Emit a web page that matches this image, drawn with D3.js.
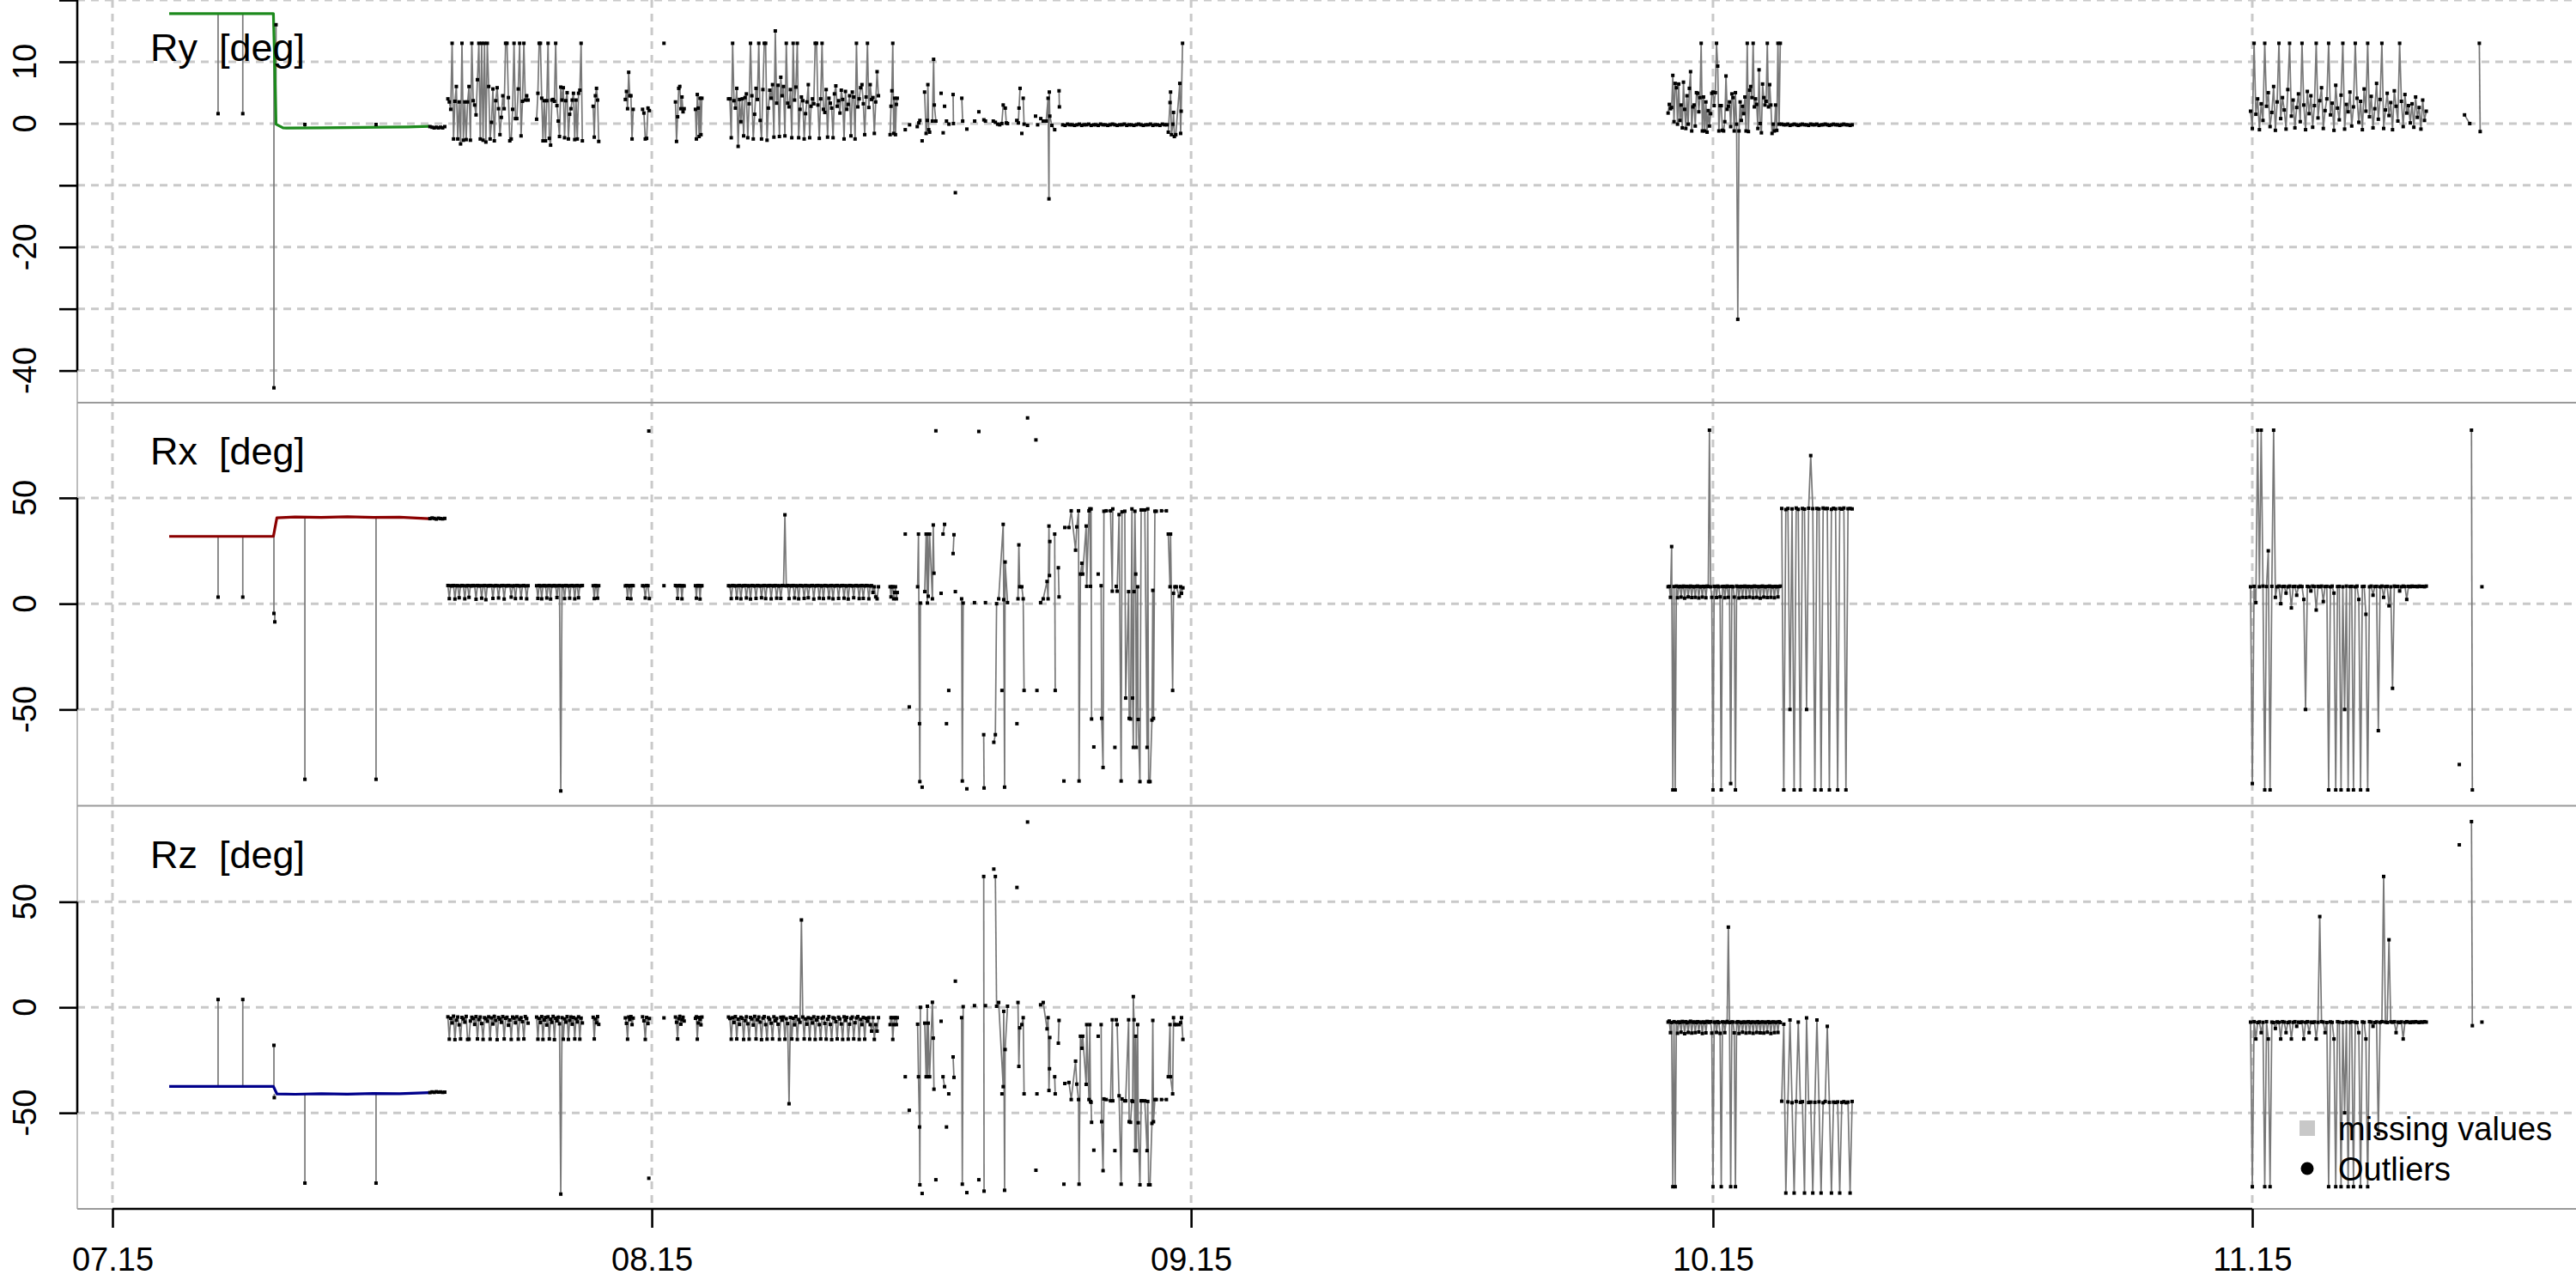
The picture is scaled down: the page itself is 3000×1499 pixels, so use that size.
<!DOCTYPE html>
<html><head><meta charset="utf-8">
<script src="https://cdn.jsdelivr.net/npm/d3@7"></script>
<style>
body{margin:0;background:#fff}
text{font-family:"Liberation Sans",Arial,Helvetica,sans-serif;fill:#000}
</style>
</head><body>
<svg id="c" width="3000" height="1499" xmlns="http://www.w3.org/2000/svg"></svg>
<script>
// ================= DATA =================
// time is given in days after the start date
const startDate = "2015-07-15";
const xTickDates = ["2015-07-15","2015-08-15","2015-09-15","2015-10-15","2015-11-15"];
const xTickLabels = ["07.15","08.15","09.15","10.15","11.15"];
const panelNames = ["Ry  [deg]","Rx  [deg]","Rz  [deg]"];
const lineColors = ["#1c8a1c","#8b0000","#00008b"];
const legendLabels = ["missing values","Outliers"];

const ryDomain = [-45.2, 20.2];
const rxDomain = [-95.5, 95.0];
const rzDomain = [-95.5, 95.5];
const ryTicks = [20,10,0,-10,-20,-30,-40];
const ryTickLabels = [10,0,-20,-40];
const rxTicks = [50,0,-50];
const rxTickLabels = [50,0,-50];
const rzTicks = [50,0,-50];
const rzTickLabels = [50,0,-50];

// ---- Ry ----
const ryLine = [[3.26,17.8],[9.25,17.8],[9.32,10],[9.4,-0.1],[9.8,-0.7],[10,-0.73],[12,-0.7],[13.3,-0.65],[15.5,-0.6],[17,-0.55],[18.2,-0.46]];
const rySpikes = [[6.07,17.8,1.6],[7.49,17.8,1.6],[9.28,17.8,-42.8],[9.4,-0.1,16.0],[11.06,-0.7,-0.15],[15.15,-0.6,-0.15]];
const ryRuns = [
 {t0:18.25,t1:19.1,v:[-0.5,-0.6,-0.7,-0.6,-0.7,-0.6,-0.7,-0.5]},
 {t0:19.28,t1:23.89,v:[4,3.5,2.3,13,-2.5,3.6,6,-2.5,3.5,-3.3,13,-2.7,3.5,-2.6,3.5,6,-2.7,13,3.7,3,1.4,7.1,13,-2.5,13,-2.7,13,-3,13,6,-2.5,0.2,5.6,-2.8,3.7,5.8,2.4,-1.8,1,4.5,2.4,13,13,4.2,-2.8,-2.5,2.3,13,0.8,0.8,5.6,13,-2,3.6,13,3.8,4.5,3.8]},
 {t0:24.38,t1:27.01,v:[0.7,4.9,13,13,4.1,-2.8,3.7,-2.8,3.7,13,-2.4,-3.5,3.8,3.9,3.6,13,2.9,0.4,-2.1,5.9,3.8,5.8,-2.3,3.7,5,-2.5,1.5,2.4,3.8,4.9,-2.6,3.8,-2.5,4.9,5.4,13,-2.8]},
 {t0:27.63,t1:27.95,v:[2.8,-2.2,4.5,5.7,3.8,-2.9]},
 {t0:29.48,t1:29.93,v:[3.9,5.2,2.4,8.3,4.5,4.5,-2.5,2.3]},
 {t0:30.47,t1:30.86,v:[2.3,1.7,-2.5,-2.4,2.5,2.1]},
 [[31.70,13]],
 {t0:32.36,t1:32.86,v:[3.5,-2.9,1.1,5.7,6.0,2.4,4.3,1.9,2.4]},
 {t0:33.51,t1:33.88,v:[2.3,-2.5,4.7,2.5,-2.1,4.1,-1.8,4.1]},
 {t0:35.41,t1:44.03,v:[4.0,4.0,-2.3,13,3.7,2.5,5.7,-3.7,3.9,0.3, 4.0,-2.0,4.2,4.8,-2.3,3.2,13,4.5,-2.5,1.5, 5.7,3.9,13,0.5,-2.5,5.5,13,13,-2.7,2.5, 5.4,4.1,6.3,-2.2,15,3.3,6.2,-2.1,7.5,4.5, 6.0,-2.0,13,3.3,2.7,5.5,-2.3,13,3.8,5.9, 13,-2.3,2.3,4.3,3.7,-2.5,1.6,3.5,6.3,-2.3, 2.8,4.0,3.2,13,13,3.0,-2.4,4.0,13,2.3, 1.8,5.5,-2.2,4.1,3.3,2.5,-2.3,4.8,6.1,2.8, 3.7,1.7,5.4,3.9,-2.5,5.2,2.3,3.1,4.5,-2.0, 5.1,4.3,-2.5,13,2.7,4.0,5.8,6.3,3.2,-1.8, 4.3,13,2.6,6.3,3.9,4.2,-1.6,3.5,8.4,4.5]},
 {t0:44.70,t1:45.11,v:[-1.8,2.8,5.3,13,-1.6,4.1,-1.8,3.1,4.1]},
 [[45.57,-1.0]],[[45.82,-0.2]],
 [[46.26,-0.5],[46.35,0.1],[46.41,0.5]],
 [[46.54,-2.8]],
 [[46.68,5.1],[46.77,-1.6],[46.84,0.5],[46.87,6.3],[46.92,-1.0],[46.97,-1.4]],
 [[47.13,0.4],[47.20,10.4],[47.24,3.0],[47.33,0.4]],
 [[47.63,4.9]],[[47.75,-1.5]],[[47.83,2.8]],
 [[47.94,0.4],[48.08,-0.1]],
 [[48.32,4.7],[48.34,0.0]],
 [[48.45,-11.2]],
 [[48.82,4.1],[48.87,0.4]],
 [[49.11,-0.9]],[[49.56,0.4]],[[49.80,1.9]],
 [[50.09,0.6],[50.18,0.4]],
 [[50.63,0.4],[50.75,0.2],[50.88,-0.1],[51.00,-0.2],[51.12,0.0],[51.20,3.0],[51.32,2.5],[51.38,0.1],[51.45,0.0]],
 [[51.98,0.5],[52.07,0.1],[52.11,2.5],[52.17,5.7]],
 [[52.27,-1.6]],
 [[52.35,4.1],[52.40,-0.1],[52.60,-0.3]],
 [[53.06,1.2]],[[53.18,-0.2]],
 [[53.36,0.8],[53.50,0.4],[53.67,0.4],[53.78,4.1],[53.83,-12.2],[53.85,5.1],[53.88,1.2],[54.00,-0.3],[54.16,-1.0]],
 [[54.41,5.3],[54.43,2.7]],
 {t0:54.62,t1:60.62,v:[-0.2,-0.3,-0.1,-0.2,-0.2,-0.3,-0.2,-0.1,-0.3,-0.2,-0.2,-0.1,-0.3,-0.2,-0.2,-0.3,-0.1,-0.2,-0.2,-0.3,-0.2,-0.1,-0.2,-0.3,-0.2,-0.2,-0.1,-0.3,-0.2,-0.2,-0.3,-0.2,-0.1,-0.2,-0.3,-0.2,-0.2,-0.1,-0.3,-0.2,-0.2,-0.3,-0.1,-0.2,-0.2]},
 [[60.69,-1.4],[60.79,3.4],[60.82,5.1],[60.87,-1.8],[60.96,-0.1],[60.99,1.8],[61.04,-2.1],[61.12,-1.8],[61.35,6.5],[61.40,-1.6],[61.43,2.0],[61.51,13.0]],
 {t0:89.42,t1:95.87,v:[1.7,3.1,2.4,2.6,7.8,0.3,6.5,5.8,-0.1,6.4, 0.5,3.0,-0.7,6.7,2.3,-0.8,4.5,-0.1,5.7,8.4, -1.2,2.7,3.0,-0.4,5.0,4.9,1.9,4.2,13,-1.2, 4.3,-1.2,3.5,-1.4,2.1,-0.4,1.6,4.9,5.1,2.9, 5.0,13,9.3,-1.2,2.9,2.9,-1.1,-1.2,0.3,7.7, 2.3,2.8,3.5,-0.5,4.8,4.2,-1.2,5.0,-0.1,-31.7, -1.2,3.5,0.5,2.8,1.6,4.3,-1.2,13,-1.3,5.4, 6.0,4.2,13,2.7,4.0,3.1,-0.8,8.7,0,-1.5, 6.4,4.2,3.0,3.6,13,2.7,6.3,3.0,-1.6,-0.1, -1.2,3.0,-1.1,13,-0.1,13]},
 {t0:95.95,t1:100.0,v:[-0.1,-0.2,-0.2,-0.1,-0.3,-0.2,-0.1,-0.2,-0.3,-0.2,-0.1,-0.2,-0.2,-0.3,-0.1,-0.2,-0.2,-0.1,-0.3,-0.2,-0.2,-0.1,-0.2,-0.3,-0.2,-0.1,-0.2,-0.2,-0.3,-0.2,-0.1,-0.2,-0.2,-0.3,-0.2]},
 {t0:122.9,t1:133.0,v:[2.0,-0.8,13,1.5,4.0,-1.0,3.2,0.5,13,2.8, 5.0,-0.5,1.8,6.0,-1.1,3.5,13,0.8,4.2,2.2, -0.9,5.5,13,1.2,3.8,-0.7,2.6,4.8,0.3,13, 3.0,-1.0,5.2,1.6,4.5,-0.6,2.9,13,0.9,3.7, 5.8,-0.8,2.1,4.0,13,1.4,3.3,-1.1,6.2,2.5, 0.6,4.6,13,-0.9,3.1,1.9,5.1,-0.4,2.7,13, 4.1,0.2,3.6,-1.0,5.6,2.0,13,1.1,4.4,-0.7, 2.4,6.5,0.7,3.9,13,-0.8,2.2,4.9,1.3,3.4, -1.0,5.3,2.8,0.4,13,3.6,-0.5,4.7,1.7,2.9, 0.1,3.2,-0.6,4.3,1.0,2.6,-0.9,3.8,0.5,2.0]},
 [[135.2,1.4],[135.5,0.0]],
 [[136.05,13.0],[136.1,-1.3]]
];

// ---- Rx ----
const rxLine = [[3.26,31.8],[9.25,31.8],[9.45,40.6],[10.5,41.0],[12,40.8],[13.5,41.1],[15,40.8],[16.5,40.9],[18.2,40.2]];
const rxSpikes = [[6.07,31.8,3.1],[7.49,31.8,3.1],[9.28,31.8,-4.6],[9.33,-4.6,-8.6],[11.06,41.0,-83.0],[15.15,40.8,-83.0]];
const rxRuns = [
 {t0:18.25,t1:19.1,v:[40.2,40.5,40.3,40.0,40.4,40.2,40.1,40.3]},
 {t0:19.28,t1:23.89,v:[8.6,2.4,8.5,8.4,8.6,2.2,8.5,8.5,2.8,8.4,8.6,8.5,2.3,8.4,8.6,3.0,8.5,8.4,8.6,8.5,2.1,8.6,8.4,8.5,2.6,8.5,8.6,1.9,8.5,8.4,8.6,8.5,2.5,8.4,8.6,8.5,2.7,8.4,8.5,8.6,2.2,8.5,8.4,8.6,8.5,3.1,8.4,8.5,2.4,8.6,8.5,8.4,2.6,8.5,8.6,8.4,2.3,8.5]},
 {t0:24.38,t1:27.01,v:[8.5,2.5,8.6,8.4,2.3,8.5,8.6,8.4,2.7,8.5,8.6,2.2,8.4,8.5,8.6,8.4,2.9,8.5,8.6,-88.5,8.4,8.5,2.4,8.6,8.5,8.4,2.6,8.5,8.6,8.4,2.3,8.5,8.6,2.8,8.4,8.5,8.6]},
 {t0:27.63,t1:27.95,v:[8.5,2.4,8.6,8.4,2.6,8.5]},
 {t0:29.48,t1:29.93,v:[8.4,8.6,2.5,8.5,8.4,2.3,8.6,8.5]},
 {t0:30.47,t1:30.86,v:[8.5,8.4,2.7,8.6,8.5,2.4]},
 [[30.83,81.6]],
 [[31.70,8.5]],
 {t0:32.36,t1:32.86,v:[8.6,8.4,2.5,8.5,8.6,8.4,2.3,8.5,8.4]},
 {t0:33.51,t1:33.88,v:[8.5,2.6,8.4,8.6,8.5,2.2,8.4,8.5]},
 {t0:35.41,t1:44.03,v:[8.5,8.4,2.4,8.6,8.5,8.4,2.6,8.5,8.6,2.3, 8.4,8.5,8.6,2.7,8.5,8.4,2.2,8.6,8.5,8.4, 2.5,8.6,8.5,8.4,2.8,8.5,8.6,2.4,8.5,8.4, 8.6,2.3,8.5,8.4,8.6,2.6,8.5,8.4,2.5,8.6, 8.5,42.0,8.4,8.6,2.4,8.5,8.4,8.6,2.7,8.5, 8.4,2.3,8.6,8.5,8.4,2.5,8.6,8.5,2.8,8.4, 8.5,8.6,2.2,8.4,8.5,8.6,2.6,8.5,8.4,2.4, 8.6,8.5,8.4,2.7,8.5,8.6,2.3,8.4,8.5,8.6, 2.5,8.4,8.5,8.6,2.6,8.5,8.4,2.2,8.6,8.5, 8.4,2.8,8.5,8.6,8.4,2.4,8.5,8.6,2.5,8.4, 8.6,8.5,2.3,8.4,8.5,5.3,8.0,3.2,2.3,8.0]},
 {t0:44.70,t1:45.11,v:[8.0,3.2,8.0,8.0,2.3,5.3,8.0,2.3,5.3]},
 [[45.57,32.9]],[[45.80,-48.8]],
 [[46.28,8.0],[46.33,32.9],[46.39,-56.7],[46.41,-84.1],[46.44,0.3]],
 [[46.54,-86.7]],
 [[46.69,5.7],[46.77,32.9],[46.84,0.3],[46.86,32.9],[46.89,3.5],[46.97,32.9],[47.13,2.3],[47.18,37.2],[47.22,14.4]],
 [[47.33,81.7]],[[47.63,4.9]],
 [[47.74,32.9],[47.83,37.5]],
 [[47.94,-56.7]],[[48.07,-41]],
 [[48.32,23.7],[48.37,32.6]],
 [[48.45,5.7]],
 [[48.81,2.3],[48.85,-83.8],[48.90,0.3]],
 [[49.11,-87.5]],[[49.55,0.5]],[[49.80,81.4]],
 [[50.08,-61.9],[50.10,-87.1]],
 [[50.18,0.5]],
 [[50.66,-65.5],[50.75,-61.9],[50.82,0.0]],
 [[50.94,2.3],[51.20,37.5],[51.23,1.9],[51.28,-86.7],[51.31,19.7],[51.45,0.5]],
 [[51.13,-41]],[[51.99,-56.7]],
 [[52.05,2.3],[52.10,27.8],[52.15,8.0],[52.27,8.0],[52.35,2.3],[52.40,-41]],
 [[52.60,87.8]],[[53.08,77.4]],[[53.14,-41]],
 [[53.35,0.5],[53.50,2.3],[53.72,10.5],[53.78,2.3],[53.83,36.7],[53.86,13.3],[53.88,29.4]],
 [[54.16,32.9],[54.19,-41]],
 [[54.37,17],[54.41,3.2]],
 [[54.69,-83.8]],
 [[54.74,36],[54.98,36],[55.11,43.9],[55.36,25.3],[55.43,36.3],[55.53,43.9],[55.56,-83.8],[55.64,14],[55.72,19.1],[55.77,14],[55.97,36.7],[56.00,8.2],[56.13,43.9],[56.18,44.8],[56.22,8.2],[56.25,44.8],[56.28,-54.5]],
 [[56.41,-67.7]],[[56.66,14]],
 [[56.83,8.5],[56.86,-54.2],[56.94,-77.4],[56.99,43.7],[57.12,43.9],[57.37,43.9],[57.47,5.9],[57.50,44.8]],
 [[57.62,-67.9]],
 [[57.70,8.2],[57.75,5.9],[57.86,42.1],[57.98,-83.8],[58.03,43.4],[58.19,43.7],[58.24,-44.6],[58.41,5.7],[58.44,-54.2],[58.52,-54.5],[58.60,44.8],[58.64,-44.6],[58.68,-67.9],[58.72,5.7],[58.77,43.7],[58.82,14],[58.85,-67.9],[58.93,8],[58.96,-54.7],[59.06,-84.1],[59.13,44.3],[59.18,44.3],[59.34,44.3],[59.47,-67.9],[59.51,44.8],[59.56,-84.1],[59.64,-84.1],[59.75,-55],[59.80,6.3],[59.84,-54.2],[59.92,43.7],[60.00,43.7]],
 [[60.30,43.9],[60.58,43.9]],
 [[60.69,32.9],[60.79,8],[60.82,32.9],[60.94,-41],[60.99,4.9],[61.07,8],[61.15,8],[61.32,3.5],[61.40,8],[61.45,4.9],[61.53,7.5]],
 {t0:89.42,t1:95.87,v:[8.0,8.2,3.0,27.0,-88.0,8.1,-88.0,8.3,2.8,8.0, 8.2,3.1,8.0,8.3,2.6,8.1,8.2,3.2,8.0,8.3, 2.9,8.1,8.0,3.0,8.2,8.3,2.7,8.0,8.1,3.1, 8.2,8.0,2.8,8.3,8.1,82.0,8.0,3.0,-88.0,8.2, 8.1,2.9,8.3,8.0,3.2,-88.0,8.1,8.2,2.8,8.0, 8.3,3.0,8.1,-85.0,8.2,8.0,3.1,-88.0,8.3,8.1, 2.7,8.0,8.2,3.0,8.1,8.3,2.9,8.0,8.2,3.1, 8.1,8.0,2.8,8.3,8.2,3.0,8.1,8.0,2.6,8.2, 8.3,3.1,8.0,8.1,2.9,8.2,8.3,3.0,8.0,8.1, 2.8,8.2,8.0,3.2,8.1,8.3]},
 {t0:95.95,t1:100.0,v:[45,-88,44.5,45,-50,44.8,-88,45.2,44.6,-88,45,44.7,-50,45.1,70,44.9,-88,45,44.8,-88,45.2,44.9,45,-88,44.6,45.1,44.8,-88,45,44.7,45.2,-88,44.9,45,44.8]},
 {t0:122.9,t1:133.0,v:[8.0,-85.0,8.2,0.5,82.0,8.0,82.0,8.3,-88.0,8.1, 25.0,-88.0,8.2,82.0,3.0,8.0,8.3,0.0,8.1,8.2, 5.0,8.0,8.3,-2.0,8.1,8.2,4.0,8.0,8.3,8.1, 2.0,-50.0,8.2,8.0,6.0,8.3,8.1,-3.0,8.2,8.0, 8.3,1.0,8.1,8.2,-88.0,8.0,8.3,5.0,-88.0,8.1, 8.2,-88.0,8.0,-50.0,8.3,-88.0,8.1,8.2,-88.0,8.0, 8.3,2.0,-88.0,8.1,8.2,-5.0,-88.0,8.0,8.3,4.0, 8.1,8.2,-60.0,8.0,8.3,3.0,8.1,8.2,-1.0,8.0, -40.0,8.3,8.1,8.2,6.0,8.0,8.3,8.1,2.0,8.2, 8.0,8.3,8.1,8.2,8.0,8.3,8.1,8.2,8.0,8.3]},
 [[134.9,-76]],
 [[135.6,82],[135.65,-88]],
 [[136.2,8.0]]
];

// ---- Rz ----
const rzLine = [[3.26,-37.5],[9.25,-37.5],[9.45,-41.0],[10.5,-41.2],[12,-40.9],[13.5,-41.1],[15,-40.8],[16.5,-40.9],[18.2,-40.4]];
const rzSpikes = [[6.07,-37.5,3.7],[7.49,-37.5,3.7],[9.28,-37.5,-18.0],[9.3,-41.0,-42.8],[11.06,-41.1,-83.3],[15.15,-40.8,-83.3]];
const rzRuns = [
 {t0:18.25,t1:19.1,v:[-40.4,-40.1,-40.3,-40.0,-40.2,-40.1,-40.3,-40.2]},
 {t0:19.28,t1:23.89,v:[-4.5,-15.1,-5.2,-7.4,-4.2,-15.3,-6.1,-4.6,-8.3,-15.0,-4.8,-5.5,-7.0,-4.3,-15.2,-15.1,-6.5,-4.7,-5.3,-8.1,-4.4,-15.0,-5.8,-4.6,-7.7,-15.2,-4.9,-5.4,-6.6,-4.5,-15.1,-5.0,-7.9,-4.3,-6.2,-15.3,-4.8,-5.6,-7.1,-4.4,-15.0,-5.2,-4.7,-8.5,-6.0,-15.2,-4.6,-5.1,-7.3,-4.5,-15.1,-5.7,-4.9,-6.8,-15.0,-4.4,-5.3,-7.5]},
 {t0:24.38,t1:27.01,v:[-4.6,-15.1,-5.3,-7.2,-4.4,-15.2,-6.0,-4.8,-8.4,-4.5,-15.0,-5.6,-7.1,-4.3,-15.3,-5.2,-6.4,-4.7,-7.8,-88.5,-4.9,-15.1,-5.5,-7.0,-4.4,-15.2,-6.2,-4.6,-8.0,-4.8,-15.0,-5.4,-6.9,-4.5,-15.1,-5.1,-7.4]},
 {t0:27.63,t1:27.95,v:[-4.7,-15.0,-5.5,-7.3,-4.4,-8.1]},
 {t0:29.48,t1:29.93,v:[-5.0,-7.6,-15.1,-4.6,-5.8,-4.4,-8.2,-5.1]},
 {t0:30.47,t1:30.86,v:[-4.5,-6.4,-15.2,-4.8,-7.7,-5.3]},
 [[30.83,-81.0]],
 [[31.70,-5.0]],
 {t0:32.36,t1:32.86,v:[-4.6,-7.1,-15.0,-5.4,-4.3,-8.0,-5.9,-4.7,-6.5]},
 {t0:33.51,t1:33.88,v:[-5.2,-4.5,-15.1,-7.4,-4.8,-5.6,-8.3,-4.6]},
 {t0:35.41,t1:44.03,v:[-4.6,-5.3,-15.1,-4.9,-7.2,-4.4,-15.0,-5.6,-8.1,-4.7, -5.2,-15.2,-6.3,-4.5,-7.8,-15.1,-4.8,-5.5,-8.4,-4.3, -15.0,-5.9,-4.6,-7.0,-15.3,-5.1,-4.4,-8.2,-15.1,-4.9, -5.7,-7.5,-15.0,-4.5,-6.4,-5.3,-8.0,-15.2,-4.7,-6.1, -4.6,-15.1,-5.4,-7.7,-45.7,-4.8,-15.0,-5.2,-8.3,-4.4, -15.2,-5.8,-7.1,41.4,-4.6,-15.0,-5.5,-8.0,-4.9,-15.1, -5.3,-7.4,-4.5,-15.2,-6.0,-4.8,-8.2,-15.0,-5.1,-4.6, -7.6,-15.1,-5.6,-4.4,-8.1,-15.3,-4.9,-5.2,-6.8,-15.0, -4.7,-5.5,-7.9,-15.2,-4.5,-6.2,-4.8,-15.1,-8.0,-5.3, -4.6,-15.0,-7.3,-5.0,-4.4,-15.2,-5.7,-8.2,-4.8,-15.1, -5.2,-6.6,-4.9,-8.2,-11.3,-4.9,-15.2,-8.2,-11.3,-4.9]},
 {t0:44.70,t1:45.11,v:[-8.2,-4.9,-4.9,-15.2,-8.2,-4.9,-4.9,-8.2,-4.9]},
 [[45.57,-32.9]],[[45.80,-48.8]],
 [[46.28,-8],[46.33,-32.9],[46.39,-56.7],[46.41,-84.1],[46.44,0]],
 [[46.54,-88.2]],
 [[46.69,-7.5],[46.77,-32.9],[46.84,0.5],[46.86,-32.9],[46.89,-7.5],[46.97,-32.9],[47.13,2.4],[47.18,-14.6],[47.22,-38.8]],
 [[47.33,-81.7]],[[47.63,-6.6]],
 [[47.74,-32.9],[47.83,-37.6]],
 [[47.94,-56.7]],[[48.07,-41]],
 [[48.32,-23.5],[48.37,-33.2]],
 [[48.45,12.4]],
 [[48.81,-4.9],[48.85,-83.8],[48.90,0.3]],
 [[49.11,-87.8]],[[49.55,0.8]],[[49.80,-81.7]],
 [[50.08,62],[50.10,-87.1]],
 [[50.18,0.8]],
 [[50.66,65.5]],
 [[50.75,62],[50.82,0.5]],
 [[50.94,2.3],[51.20,-37.6],[51.23,-1.9],[51.28,-86.7],[51.31,-20],[51.45,0.5]],
 [[51.13,-41]],[[51.99,56.8]],
 [[52.05,2.3],[52.10,-28],[52.15,-9.7],[52.27,-8.2],[52.35,-4.9],[52.40,-41]],
 [[52.60,87.8]],[[53.08,-77.2]],[[53.14,-41]],
 [[53.35,1.2],[53.50,2.3],[53.72,-10.2],[53.78,-4.9],[53.83,-39.4],[53.86,-29.1],[53.88,-14.3]],
 [[54.16,-32.9],[54.19,-41]],
 [[54.37,-17],[54.41,-6.2]],
 [[54.69,-83.8]],
 [[54.74,-36.1],[54.98,-35.6],[55.11,-43.7],[55.36,-25.5],[55.43,-36.4],[55.53,-43.7],[55.56,-83.8],[55.64,-13.7],[55.72,-19.4],[55.77,-13.7],[55.97,-36.5],[56.00,-8.2],[56.13,-43.7],[56.18,-8.2],[56.22,-44.6],[56.25,-45],[56.28,-54.5]],
 [[56.41,-67.7]],[[56.66,-13.7]],
 [[56.83,-8.2],[56.86,-54.2],[56.94,-77.4],[56.99,-43.4],[57.12,-43.7],[57.37,-44.3],[57.47,-5.9],[57.50,-44.3]],
 [[57.62,-67.9]],
 [[57.70,-5.9],[57.75,-8.2],[57.86,-41.9],[57.98,-83.8],[58.03,-43.4],[58.19,-44.3],[58.24,-44.3],[58.41,-5.9],[58.44,-54.2],[58.52,-54.5],[58.60,-44.3],[58.64,-44.6],[58.68,5.1],[58.72,-5.9],[58.77,-67.9],[58.82,-13.7],[58.85,-67.9],[58.93,-8.2],[58.96,-54.7],[59.06,-84.1],[59.13,-44.3],[59.18,-44.3],[59.34,-44.3],[59.47,-67.9],[59.51,-44.6],[59.56,-84.1],[59.64,-84.1],[59.75,-55],[59.80,-6.2],[59.84,-54.2],[59.92,-43.7],[60.00,-43.7]],
 [[60.30,-43.7],[60.58,-43.7]],
 [[60.69,-32.9],[60.79,-8.2],[60.82,-32.9],[60.94,-41],[60.99,-4.9],[61.07,-8.2],[61.15,-8.2],[61.32,-8.2],[61.40,-7.3],[61.45,-4.9],[61.53,-15.2]],
 {t0:89.42,t1:95.87,v:[-7.0,-6.5,-12.0,-7.2,-85.0,-6.8,-85.0,-7.1,-12.3,-6.9, -7.2,-11.8,-6.7,-7.0,-12.5,-6.8,-7.3,-11.9,-7.0,-6.6, -12.2,-7.1,-6.9,-12.0,-7.2,-6.8,-11.7,-7.0,-7.1,-12.4, -6.9,-7.2,-12.1,-6.7,-7.0,-7.1,-6.8,-12.2,-85.0,-7.0, -7.1,-11.9,-6.8,-7.2,-12.3,-85.0,-6.9,-7.0,-12.0,-7.1, -6.7,38.0,-7.2,-85.0,-6.9,-7.0,-12.1,-85.0,-7.1,-6.8, -12.4,-7.0,-7.2,-11.8,-6.9,-7.1,-12.2,-7.0,-6.8,-12.0, -7.2,-6.9,-12.3,-7.0,-7.1,-11.9,-6.8,-7.2,-12.1,-7.0, -6.9,-12.2,-7.1,-7.0,-11.8,-6.8,-7.2,-12.4,-7.0,-6.9, -12.0,-7.1,-7.0,-11.9,-6.8,-7.2]},
 {t0:95.95,t1:100.0,v:[-44.5,-8,-88,-44.8,-6,-45.2,-88,-44.6,-7,-45,-44.7,-88,-5,-45.1,-44.9,-88,-45,-6,-44.8,-88,-45.2,-44.6,-9,-45,-88,-44.9,-45.1,-44.8,-88,-45,-44.7,-45.2,-44.9,-88,-44.6]},
 {t0:122.9,t1:133.0,v:[-7.0,-85.0,-6.8,-15.0,-7.2,-6.9,-12.0,-7.1,-85.0,-6.8, -15.0,-85.0,-7.0,-7.2,-10.0,-6.9,-7.1,-15.0,-6.8,-7.0, -12.0,-7.2,-6.9,-15.0,-7.1,-6.8,-9.0,-7.0,-7.2,-6.9, -15.0,-7.1,-6.8,-12.0,-7.0,-7.2,-6.9,-15.0,-7.1,43.0, -6.8,-7.0,-12.0,-7.2,-85.0,-6.9,-7.1,-15.0,-85.0,-6.8, -7.0,-85.0,-7.2,-50.0,-6.9,-85.0,-7.1,-6.8,-85.0,-7.0, -7.2,-12.0,-85.0,-6.9,-7.1,-15.0,-85.0,-6.8,-7.0,-9.0, -7.2,-6.9,-60.0,-7.1,-6.8,62.0,-7.0,-7.2,32.0,-6.9, -7.1,-6.8,-12.0,-7.0,-7.2,-6.9,-15.0,-7.1,-6.8,-7.0, -7.2,-6.9,-7.1,-6.8,-7.0,-7.2,-6.9,-7.1,-6.8,-7.0]},
 [[134.9,77]],
 [[135.6,88],[135.65,-8.7]],
 [[136.2,-7.0]]
];

// ================= DRAWING =================
const svg = d3.select("#c");
const W = 3000, H = 1499;
const parse = d3.utcParse("%Y-%m-%d");
const t0 = parse(startDate);
const toDate = d => new Date(t0.getTime() + d * 864e5);

const x = d3.scaleUtc().domain([parse(xTickDates[0]), parse(xTickDates[4])]).range([131, 2623]);
const plotLeft = 90, plotRight = W + 10;

const panels = [
  {name: panelNames[0], color: lineColors[0], domain: ryDomain, ticks: ryTicks, labels: ryTickLabels, line: ryLine, spikes: rySpikes, runs: ryRuns, top: -1.4, bottom: 469},
  {name: panelNames[1], color: lineColors[1], domain: rxDomain, ticks: rxTicks, labels: rxTickLabels, line: rxLine, spikes: rxSpikes, runs: rxRuns, top: 469, bottom: 938.5},
  {name: panelNames[2], color: lineColors[2], domain: rzDomain, ticks: rzTicks, labels: rzTickLabels, line: rzLine, spikes: rzSpikes, runs: rzRuns, top: 938.5, bottom: 1408}
];

function expand(run) {
  if (Array.isArray(run)) return run;
  const n = run.v.length;
  return run.v.map((v, i) => [run.t0 + (n > 1 ? (run.t1 - run.t0) * i / (n - 1) : 0), v]);
}

const gridCol = "#c9c9c9";
const gridDash = "9,7";

// vertical grid lines (through all panels)
svg.append("g").selectAll("line").data(xTickDates).join("line")
  .attr("x1", d => x(parse(d))).attr("x2", d => x(parse(d)))
  .attr("y1", 0).attr("y2", 1408)
  .attr("stroke", gridCol).attr("stroke-width", 3).attr("stroke-dasharray", gridDash);

panels.forEach((p, pi) => {
  const y = d3.scaleLinear().domain(p.domain).range([p.bottom, p.top]);
  const g = svg.append("g");
  const clipId = "clip" + pi;
  svg.append("defs").append("clipPath").attr("id", clipId)
    .append("rect").attr("x", plotLeft).attr("y", Math.max(0, p.top)).attr("width", plotRight - plotLeft).attr("height", p.bottom - Math.max(0, p.top));

  // horizontal grid
  g.append("g").selectAll("line").data(p.ticks).join("line")
    .attr("x1", plotLeft).attr("x2", plotRight)
    .attr("y1", d => y(d)).attr("y2", d => y(d))
    .attr("stroke", gridCol).attr("stroke-width", 3).attr("stroke-dasharray", gridDash);

  const marks = g.append("g").attr("clip-path", `url(#${clipId})`);
  const line = d3.line().x(d => x(toDate(d[0]))).y(d => y(d[1]));

  const runs = p.runs.map(expand);
  // gray connecting lines of the raw series
  marks.append("g").selectAll("path").data(runs.filter(r => r.length > 1)).join("path")
    .attr("d", line).attr("fill", "none").attr("stroke", "#787878").attr("stroke-width", 1.7);
  marks.append("g").selectAll("line").data(p.spikes).join("line")
    .attr("x1", d => x(toDate(d[0]))).attr("x2", d => x(toDate(d[0])))
    .attr("y1", d => y(d[1])).attr("y2", d => y(d[2]))
    .attr("stroke", "#787878").attr("stroke-width", 1.7);

  // coloured series
  marks.append("path").datum(p.line).attr("d", line)
    .attr("fill", "none").attr("stroke", p.color).attr("stroke-width", 3.2).attr("stroke-linejoin", "round");

  // outlier markers
  const pts = runs.flat().concat(p.spikes.map(s => [s[0], s[2]]));
  marks.append("g").selectAll("rect").data(pts).join("rect")
    .attr("x", d => x(toDate(d[0])) - 2).attr("y", d => y(d[1]) - 2)
    .attr("width", 4).attr("height", 4).attr("fill", "#000");

  // box lines (panel separators)
  g.append("line").attr("x1", plotLeft).attr("x2", plotRight).attr("y1", p.bottom).attr("y2", p.bottom)
    .attr("stroke", "#9a9a9a").attr("stroke-width", 2);

  // y axis
  const ax = d3.axisLeft(y).tickValues(p.ticks).tickSize(21).tickFormat("");
  const axg = g.append("g").attr("transform", `translate(${plotLeft},0)`).call(ax);
  axg.select(".domain").remove();
  axg.selectAll(".tick line").attr("stroke", "#000").attr("stroke-width", 2.6);
  const tmin = d3.min(p.ticks), tmax = d3.max(p.ticks);
  g.append("line").attr("x1", plotLeft).attr("x2", plotLeft)
    .attr("y1", y(tmax)).attr("y2", y(tmin)).attr("stroke", "#000").attr("stroke-width", 2.6);
  g.append("g").selectAll("text").data(p.labels).join("text")
    .attr("transform", d => `translate(42,${y(d)}) rotate(-90)`)
    .attr("text-anchor", "middle").attr("font-size", 38).text(d => d);

  // panel title
  g.append("text").attr("x", 175).attr("y", p.top + 72).attr("font-size", 45)
    .style("white-space", "pre").text(p.name);
});

// left box line (light gray)
svg.insert("line", ":first-child").attr("x1", plotLeft).attr("x2", plotLeft).attr("y1", 0).attr("y2", 1408)
  .attr("stroke", "#bdbdbd").attr("stroke-width", 2);

// x axis
const xa = d3.axisBottom(x).tickValues(xTickDates.map(parse)).tickSize(22).tickPadding(23)
  .tickFormat((d, i) => xTickLabels[i]);
const xg = svg.append("g").attr("transform", "translate(0,1408)").call(xa);
xg.select(".domain").attr("d", `M${x(parse(xTickDates[0]))},0H${x(parse(xTickDates[4]))}`).attr("stroke", "#000").attr("stroke-width", 2.6);
xg.selectAll(".tick line").attr("stroke", "#000").attr("stroke-width", 2.6);
xg.selectAll(".tick text").attr("font-size", 38).attr("font-family", "Liberation Sans, Arial, sans-serif").attr("fill", "#000");

// legend
const lg = svg.append("g");
lg.append("rect").attr("x", 2678).attr("y", 1305).attr("width", 18).attr("height", 18).attr("fill", "#c8c8c8");
lg.append("circle").attr("cx", 2687).attr("cy", 1361).attr("r", 7.5).attr("fill", "#000");
lg.selectAll("text.lt").data(legendLabels).join("text").attr("class", "lt")
  .attr("x", 2723).attr("y", (d, i) => 1328 + i * 47).attr("font-size", 38).text(d => d);
</script>
</body></html>
